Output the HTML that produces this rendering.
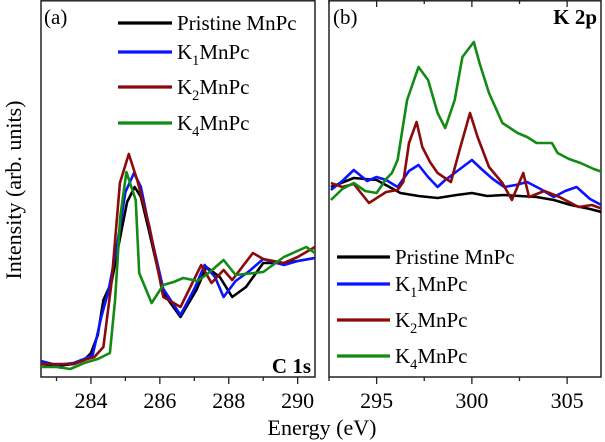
<!DOCTYPE html>
<html><head><meta charset="utf-8"><style>
body{margin:0;background:#fff}
svg{display:block;font-family:"Liberation Serif",serif}
</style></head><body>
<svg id="c" width="605" height="442" viewBox="0 0 605 442"></svg>
<script>
// Panel (a) C 1s data: [energy eV, intensity arb.]
const c1sBlack=[[282.55,13],[283,11],[283.5,13],[283.8,17],[284,24],[284.2,42],[284.36,77],[284.6,95],[284.85,140],[285.05,175],[285.27,190],[285.45,180],[285.7,144],[286.1,84],[286.6,60],[287.06,87],[287.35,110],[287.74,100],[288.1,80],[288.5,90],[289,114],[289.6,114],[290,116],[290.5,119]];
const c1sBlue=[[282.55,16],[283,12],[283.5,14],[283.8,18],[284.05,22],[284.3,60],[284.5,85],[284.75,130],[285.0,185],[285.25,204],[285.45,190],[285.7,148],[286.1,88],[286.6,62],[287.0,88],[287.3,112],[287.6,100],[287.85,80],[288.2,96],[288.6,106],[289,118],[289.6,112],[290,116],[290.5,119]];
const c1sRed=[[282.55,13],[283,13],[283.5,13],[283.8,17],[284.1,20],[284.36,30],[284.6,95],[284.84,194],[285.1,223],[285.35,196],[285.7,150],[286.1,80],[286.6,70],[287.2,112],[287.5,94],[287.85,107],[288.1,97],[288.7,124],[289,118],[289.6,114],[290,120],[290.5,130]];
const c1sGreen=[[282.55,10],[283,10],[283.4,8],[283.8,14],[284.2,18],[284.55,24],[284.7,77],[284.85,160],[285.03,205],[285.3,177],[285.4,104],[285.76,74],[286.1,92],[286.4,95],[286.68,99],[287.1,96],[287.45,105],[287.85,117],[288.2,102],[289,105],[289.6,120],[290.25,130],[290.5,124]];
// Panel (b) K 2p data
const k2pBlack=[[292.6,190],[293.8,199],[295,197],[296.25,184],[297.2,181],[298.2,179],[299.2,182],[300,184],[300.8,181],[301.7,182],[302.5,181],[303.4,180],[304.3,177],[305.2,172],[306.2,168],[307,164]];
const k2pBlue=[[292.6,187],[293.2,196],[293.8,207],[294.5,196],[295,200],[295.5,197],[296.1,190],[296.7,206],[297.2,212],[297.7,200],[298.2,190],[298.6,197],[299.1,204],[300,217],[300.5,208],[301.1,198],[301.7,190],[302.3,192],[302.9,195],[303.6,188],[304.3,180],[304.9,186],[305.5,190],[306.2,178],[307,170]];
const k2pRed=[[292.6,194],[293.2,190],[293.8,193],[294.6,174],[295.5,185],[296.1,187],[296.4,195],[296.7,234],[297.1,255],[297.4,230],[297.8,215],[298.2,204],[298.9,195],[299.4,230],[299.9,264],[300.3,240],[300.9,210],[301.6,194],[302.1,177],[302.7,204],[303,180],[303.8,186],[304.6,180],[305.6,170],[306.3,172],[307,167]];
const k2pGreen=[[292.6,177],[293.2,188],[293.8,194],[294.4,186],[295,184],[295.5,198],[295.8,204],[296.1,217],[296.6,277],[297.2,310],[297.7,297],[298.2,264],[298.6,249],[299.1,277],[299.5,320],[300.1,335],[300.4,314],[300.9,284],[301.6,254],[302.4,244],[302.9,240],[303.4,234],[304.2,234],[304.5,224],[305.1,218],[305.7,214],[306.4,208],[307,204]];
const ticksA=[284,286,288,290];
const ticksB=[295,300,305];
const names=["Pristine MnPc","K1MnPc","K2MnPc","K4MnPc"];
const colors=["#000000","#0a14ff","#8b0a0a","#138a13"];

const NS="http://www.w3.org/2000/svg";
const svg=document.getElementById('c');
function el(t,a,p){const e=document.createElementNS(NS,t);for(const k in a)e.setAttribute(k,a[k]);(p||svg).appendChild(e);return e;}
const Y0=377,Y1=0;
function yS(v){return Y0-(v/377)*(Y0-Y1);}
function xA(e){return 41+(e-282.55)*(297.7-91)/6;}
function xB(e){return 329+(e-292.5)*19.05;}

function frame(x0,x1,name){
  const r=el('rect',{x:x0,y:0.8,width:x1-x0,height:Y0-0.8,fill:'none',stroke:'#222','stroke-width':1.5});
  
}
function series(data,sx,col,name,clip){
  const d=data.map((p,i)=>(i?'L':'M')+sx(p[0]).toFixed(1)+' '+yS(p[1]).toFixed(1)).join(' ');
  const p=el('path',{d:d,fill:'none',stroke:col,'stroke-width':2.6,'stroke-linejoin':'round','clip-path':clip});
  
}
const defs=el('defs',{});
const ca=el('clipPath',{id:'ca'},defs);el('rect',{x:41,y:0,width:274,height:377},ca);
const cb=el('clipPath',{id:'cb'},defs);el('rect',{x:329,y:0,width:272,height:377},cb);

frame(41,315,'panel-a-frame');frame(329,601,'panel-b-frame');

for(let e=283;e<=290;e+=1){const x=xA(e);const major=ticksA.includes(e);
  el('line',{x1:x,x2:x,y1:Y0,y2:Y0+(major?7:4),stroke:'#222','stroke-width':1.3});}
ticksA.forEach(e=>{const t=el('text',{x:xA(e),y:408,'text-anchor':'middle','font-size':22});t.textContent=e;
  });
for(let e=292.5;e<=307;e+=2.5){const x=xB(e);const major=ticksB.includes(e);
  el('line',{x1:x,x2:x,y1:Y0,y2:Y0+(major?7:4),stroke:'#222','stroke-width':1.3});
  el('line',{x1:x,x2:x,y1:0,y2:(major?7:4),stroke:'#222','stroke-width':1.3});}
ticksB.forEach(e=>{const t=el('text',{x:xB(e),y:408,'text-anchor':'middle','font-size':22});t.textContent=e;
  });

[c1sBlack,c1sBlue,c1sRed,c1sGreen].forEach((d,i)=>series(d,xA,colors[i],'c1s-series-'+i,'url(#ca)'));
[k2pBlack,k2pBlue,k2pRed,k2pGreen].forEach((d,i)=>series(d,xB,colors[i],'k2p-series-'+i,'url(#cb)'));

function legend(x0,x1,ys,fs,pref){
  names.forEach((n,i)=>{
    const g=el('g',{});
    
    
    el('line',{x1:x0,x2:x1,y1:ys[i],y2:ys[i],stroke:colors[i],'stroke-width':3.2},g);
    const t=el('text',{x:x1+5,y:ys[i]+7,'font-size':fs},g);
    if(i===0){t.textContent=n;}else{
      const a=el('tspan',{},t);a.textContent='K';
      const b=el('tspan',{dy:6,'font-size':fs*0.68},t);b.textContent=n[1];
      const c=el('tspan',{dy:-6},t);c.textContent='MnPc';}
  });
}
legend(118,172,[23,52,87,123],21,'panel-a');
legend(337,390,[257,284,320,356],21,'panel-b');

function txt(x,y,s,fs,extra,name){const t=el('text',Object.assign({x:x,y:y,'font-size':fs},extra||{}));t.textContent=s;
  return t;}
txt(44,24,'(a)',21,{},'panel-a-label');
txt(333,24,'(b)',21,{},'panel-b-label');
txt(311,373,'C 1s',21,{'text-anchor':'end','font-weight':'bold'},'c1s-label');
txt(597,24,'K 2p',21,{'text-anchor':'end','font-weight':'bold'},'k2p-label');
txt(322,435,'Energy (eV)',22,{'text-anchor':'middle'},'x-axis-title');
txt(0,0,'Intensity (arb. units)',22,{'text-anchor':'middle',transform:'translate(21,190) rotate(-90)'},'y-axis-title');
</script>
</body></html>
